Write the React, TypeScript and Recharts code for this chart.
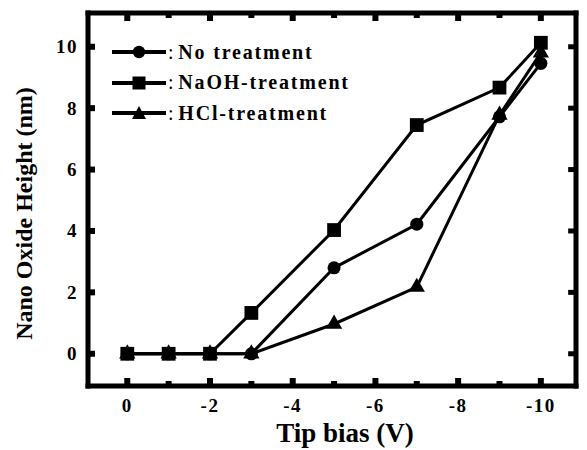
import { ComposedChart, Legend, Line, ReferenceLine, Scatter, XAxis, YAxis, ZAxis } from "recharts";

const biasV = [0, -1, -2, -3, -5, -7, -9, -10];
const noTreatment = [0, 0, 0, 0, 2.8, 4.22, 7.72, 9.46];
const naohTreatment = [0, 0, 0, 1.33, 4.03, 7.45, 8.67, 10.13];
const hclTreatment = [0, 0, 0, 0, 0.97, 2.17, 7.78, 9.8];

const xMajorTicks = [0, -2, -4, -6, -8, -10];
const xMinorTicks = [-1, -3, -5, -7, -9];
const yTicks = [0, 2, 4, 6, 8, 10];

const X_DOMAIN: [number, number] = [-10.85, 0.95];
const Y_DOMAIN: [number, number] = [-1.05, 11.1];
const RIGHT_TICK_LEN = 0.19; // in volts, ~8px

const data = biasV.map((v, i) => ({
  bias: v,
  none: noTreatment[i],
  naoh: naohTreatment[i],
  hcl: hclTreatment[i],
}));

const xAllTicks = [...xMajorTicks, ...xMinorTicks];

const FONT = '"Liberation Serif", "Times New Roman", serif';
const frame = { stroke: "#000", strokeWidth: 5, strokeLinecap: "square" as const };
const tickFont = { fontFamily: FONT, fontSize: 19, fontWeight: "bold", letterSpacing: 1.5, fill: "#000" };

type Shape = "circle" | "square" | "triangle";

const series: { key: string; name: string; shape: Shape; area: number }[] = [
  { key: "none", name: "No treatment", shape: "circle", area: 135 },
  { key: "naoh", name: "NaOH-treatment", shape: "square", area: 190 },
  { key: "hcl", name: "HCl-treatment", shape: "triangle", area: 115 },
];

function LegendMarker({ shape }: { shape: Shape }) {
  if (shape === "circle") return <circle cx={27} cy={9} r={6.2} fill="#000" />;
  if (shape === "square") return <rect x={20.5} y={2.5} width={13} height={13} fill="#000" />;
  return <polygon points="27,2 34,15 20,15" fill="#000" />;
}

function LegendBox() {
  return (
    <div style={{ fontFamily: FONT, fontSize: 20, color: "#000", letterSpacing: 1.8 }}>
      {series.map((s) => (
        <div key={s.key} style={{ display: "flex", alignItems: "center", height: 30.5 }}>
          <svg width={56} height={18}>
            <line x1={0} y1={9} x2={54} y2={9} stroke="#000" strokeWidth={4} />
            <LegendMarker shape={s.shape} />
          </svg>
          <span>:</span>
          <span style={{ fontWeight: "bold", marginLeft: 3 }}>{s.name}</span>
        </div>
      ))}
    </div>
  );
}

// short, stubby inward tick marks; labels only on bottom / left major ticks
function BottomTick({ x, y, payload }: any) {
  const major = xMajorTicks.includes(payload.value);
  return (
    <g>
      <line x1={x} y1={y} x2={x} y2={y - (major ? 8 : 5)} stroke="#000" strokeWidth={6} />
      {major && (
        <text x={x} y={y + 26} textAnchor="middle" {...tickFont}>
          {payload.value}
        </text>
      )}
    </g>
  );
}

function TopTick({ x, y, payload }: any) {
  const major = xMajorTicks.includes(payload.value);
  return <line x1={x} y1={y} x2={x} y2={y + (major ? 8 : 5)} stroke="#000" strokeWidth={6} />;
}

function LeftTick({ x, y, payload }: any) {
  return (
    <g>
      <line x1={x} y1={y} x2={x + 7} y2={y} stroke="#000" strokeWidth={6} />
      <text x={x - 10} y={y + 6.5} textAnchor="end" {...tickFont}>
        {payload.value}
      </text>
    </g>
  );
}

function XTitle({ viewBox }: any) {
  const cx = viewBox.x + viewBox.width / 2 + 13;
  return (
    <text x={cx} y={viewBox.y + 56} textAnchor="middle" fontFamily={FONT} fontSize={27} fontWeight="bold" fill="#000">
      Tip bias (V)
    </text>
  );
}

function YTitle({ viewBox }: any) {
  const cx = viewBox.x + 32;
  const cy = viewBox.y + viewBox.height / 2 + 14;
  return (
    <text x={cx} y={cy} transform={`rotate(-90 ${cx} ${cy})`} textAnchor="middle" fontFamily={FONT}
      fontSize={24} fontWeight="bold" fill="#000">
      Nano Oxide Height (nm)
    </text>
  );
}

export default function App() {
  return (
    <div style={{ position: "absolute", left: 0, top: 0, background: "#fff" }}>
      <ComposedChart width={587} height={450} data={data} margin={{ top: 12, right: 11, left: 0, bottom: 1 }}>
        <XAxis dataKey="bias" type="number" domain={X_DOMAIN} reversed allowDataOverflow
          ticks={xAllTicks} interval={0} height={63} tickSize={0} tickMargin={0} tickLine={false}
          axisLine={frame} tick={<BottomTick />} label={<XTitle />} />
        <XAxis xAxisId="top" orientation="top" dataKey="bias" type="number" domain={X_DOMAIN} reversed
          allowDataOverflow ticks={xAllTicks} interval={0} height={1} tickSize={0} tickMargin={0}
          tickLine={false} axisLine={frame} tick={<TopTick />} />
        <YAxis type="number" domain={Y_DOMAIN} allowDataOverflow ticks={yTicks} interval={0} width={88}
          tickSize={0} tickMargin={0} tickLine={false} axisLine={frame} tick={<LeftTick />}
          label={<YTitle />} />
        {series.map((s) => (
          <ZAxis key={`z-${s.key}`} zAxisId={s.key} range={[s.area, s.area]} />
        ))}
        {/* right-hand frame edge and its inward ticks */}
        <ReferenceLine x={X_DOMAIN[0]} stroke="#000" strokeWidth={5} strokeLinecap="square" />
        {yTicks.map((v) => (
          <ReferenceLine key={`rt${v}`} segment={[{ x: X_DOMAIN[0], y: v }, { x: X_DOMAIN[0] + RIGHT_TICK_LEN, y: v }]}
            stroke="#000" strokeWidth={5} />
        ))}
        {series.map((s) => (
          <Line key={s.key} dataKey={s.key} name={s.name} stroke="#000" strokeWidth={3}
            dot={false} activeDot={false} isAnimationActive={false} legendType="none" />
        ))}
        {series.map((s) => (
          <Scatter key={`sc-${s.key}`} dataKey={s.key} zAxisId={s.key} shape={s.shape} fill="#000"
            isAnimationActive={false} legendType="none" />
        ))}
        <Legend layout="vertical" align="center" verticalAlign="middle" content={() => <LegendBox />}
          wrapperStyle={{ position: "absolute", top: 37, left: 112, width: "auto" }} />
      </ComposedChart>
    </div>
  );
}
